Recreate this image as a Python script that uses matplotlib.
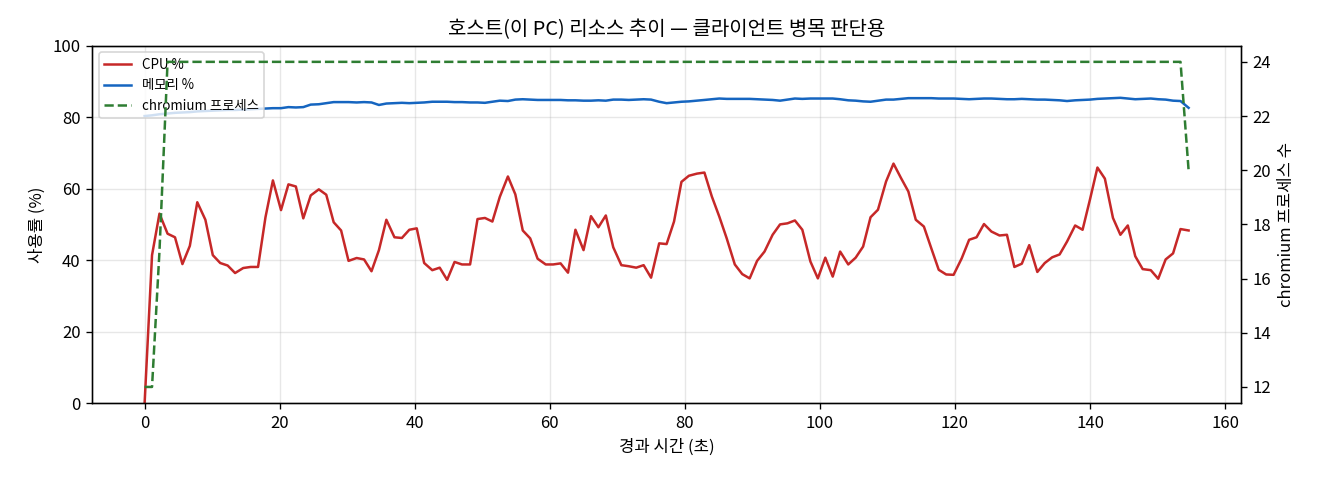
import matplotlib.pyplot as plt

plt.rcParams['font.family'] = ['Noto Sans CJK KR', 'DejaVu Sans']
plt.rcParams['axes.unicode_minus'] = False

# elapsed seconds of each sample (about 1.12 s apart)
elapsed = [0, 1.1, 2.2, 3.4, 4.5, 5.6, 6.7, 7.8, 9.0, 10.1, 11.2, 12.3, 13.4, 14.6, 15.7,
           16.8, 17.9, 19.0, 20.2, 21.3, 22.4, 23.5, 24.6, 25.8, 26.9, 28.0, 29.1, 30.2,
           31.4, 32.5, 33.6, 34.7, 35.8, 37.0, 38.1, 39.2, 40.3, 41.4, 42.6, 43.7, 44.8,
           45.9, 47.0, 48.2, 49.3, 50.4, 51.5, 52.6, 53.8, 54.9, 56.0, 57.1, 58.2, 59.4,
           60.5, 61.6, 62.7, 63.8, 65.0, 66.1, 67.2, 68.3, 69.4, 70.6, 71.7, 72.8, 73.9,
           75.0, 76.2, 77.3, 78.4, 79.5, 80.6, 81.8, 82.9, 84.0, 85.1, 86.2, 87.4, 88.5,
           89.6, 90.7, 91.8, 93.0, 94.1, 95.2, 96.3, 97.4, 98.6, 99.7, 100.8, 101.9, 103.0,
           104.2, 105.3, 106.4, 107.5, 108.6, 109.8, 110.9, 112.0, 113.1, 114.2, 115.4,
           116.5, 117.6, 118.7, 119.8, 121.0, 122.1, 123.2, 124.3, 125.4, 126.6, 127.7,
           128.8, 129.9, 131.0, 132.2, 133.3, 134.4, 135.5, 136.6, 137.8, 138.9, 140.0,
           141.1, 142.2, 143.4, 144.5, 145.6, 146.7, 147.8, 149.0, 150.1, 151.2, 152.3,
           153.4, 154.6]

cpu = [0, 41.4, 53.0, 47.4, 46.4, 38.9, 44.0, 56.2, 51.3, 41.4, 39.2, 38.5, 36.4, 37.8,
       38.1, 38.1, 52.0, 62.3, 54.0, 61.2, 60.6, 51.7, 58.1, 59.8, 58.3, 50.6, 48.3, 39.8,
       40.6, 40.2, 36.9, 42.8, 51.3, 46.4, 46.2, 48.5, 48.9, 39.2, 37.2, 37.9, 34.5, 39.5,
       38.8, 38.8, 51.5, 51.8, 50.8, 57.7, 63.4, 58.4, 48.3, 46.1, 40.4, 38.8, 38.8, 39.1,
       36.5, 48.5, 42.8, 52.3, 49.2, 52.5, 43.6, 38.6, 38.3, 37.9, 38.6, 35.1, 44.7, 44.5,
       50.8, 61.9, 63.6, 64.2, 64.5, 57.8, 52.2, 46.1, 38.8, 36.1, 34.9, 39.8, 42.4, 47.1,
       50.0, 50.3, 51.1, 48.5, 39.6, 34.9, 40.7, 35.4, 42.4, 38.8, 40.7, 43.8, 52.0, 54.1,
       62.0, 67.0, 63.0, 59.2, 51.3, 49.4, 43.3, 37.3, 36.0, 35.9, 40.5, 45.7, 46.4, 50.1,
       48.0, 46.9, 47.1, 38.1, 39.0, 44.2, 36.7, 39.2, 40.8, 41.6, 45.2, 49.7, 48.5, 57.0,
       65.9, 62.8, 51.8, 47.1, 49.7, 41.1, 37.5, 37.2, 34.8, 40.2, 41.9, 48.7, 48.3]

mem = [80.3, 80.5, 80.8, 81.0, 81.2, 81.3, 81.4, 81.6, 81.7, 81.8, 81.9, 82.0, 82.0, 82.1,
       82.2, 82.3, 82.4, 82.5, 82.5, 82.8, 82.7, 82.8, 83.5, 83.6, 83.9, 84.2, 84.2, 84.2,
       84.1, 84.2, 84.1, 83.4, 83.8, 83.9, 84.0, 83.9, 84.0, 84.1, 84.3, 84.3, 84.3, 84.2,
       84.2, 84.1, 84.1, 84.0, 84.3, 84.6, 84.5, 84.9, 85.0, 84.9, 84.8, 84.8, 84.8, 84.8,
       84.7, 84.7, 84.6, 84.6, 84.7, 84.6, 84.9, 84.9, 84.8, 84.9, 85.0, 84.9, 84.3, 83.9,
       84.1, 84.3, 84.4, 84.6, 84.8, 85.0, 85.2, 85.1, 85.1, 85.1, 85.1, 85.0, 84.9, 84.8,
       84.6, 84.9, 85.2, 85.1, 85.2, 85.2, 85.2, 85.2, 85.0, 84.7, 84.6, 84.4, 84.3, 84.6,
       84.9, 84.9, 85.1, 85.3, 85.3, 85.3, 85.3, 85.2, 85.2, 85.2, 85.1, 85.0, 85.1, 85.2,
       85.2, 85.1, 85.0, 85.0, 85.1, 85.0, 84.9, 84.9, 84.8, 84.7, 84.5, 84.7, 84.8, 84.9,
       85.1, 85.2, 85.3, 85.4, 85.2, 85.0, 85.1, 85.2, 85.0, 84.9, 84.6, 84.5, 82.6]

# chromium process count: 12 at start, 24 for the run, 20 at the last sample
procs = [12, 12, 17] + [24] * 135 + [20]

fig, ax = plt.subplots(figsize=(11, 4), dpi=120)
l1, = ax.plot(elapsed, cpu, color='#c62828', lw=1.5, label='CPU %')
l2, = ax.plot(elapsed, mem, color='#1565c0', lw=1.5, label='메모리 %')
ax.set_ylim(0, 100)
ax.set_xlabel('경과 시간 (초)')
ax.set_ylabel('사용률 (%)')
ax.grid(True, alpha=0.3)

ax2 = ax.twinx()
l3, = ax2.plot(elapsed, procs, color='#2e7d32', lw=1.5, ls='--', label='chromium 프로세스')
ax2.set_ylabel('chromium 프로세스 수')

ax.legend(handles=[l1, l2, l3], loc='upper left', fontsize=8)
ax.set_title('호스트(이 PC) 리소스 추이 — 클라이언트 병목 판단용')

fig.subplots_adjust(left=0.07, right=0.94, top=0.905, bottom=0.16)
fig.savefig('out.png')
